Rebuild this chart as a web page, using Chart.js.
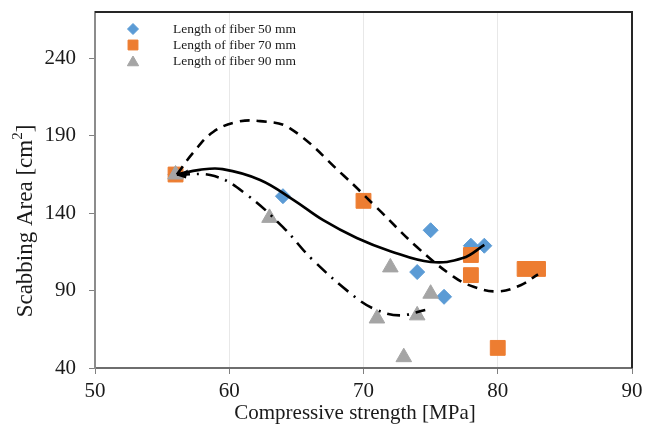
<!DOCTYPE html>
<html>
<head>
<meta charset="utf-8">
<script src="https://cdn.jsdelivr.net/npm/chart.js@4.4.0/dist/chart.umd.min.js"></script>
<style>
  html, body { margin: 0; padding: 0; background: #fff; }
</style>
</head>
<body>
<canvas id="chart" width="658" height="429"></canvas>
<script>
// axis ticks
const xTicks = [50, 60, 70, 80, 90];
const yTicks = [40, 90, 140, 190, 240];

// measured points
const seriesNames = ["Length of fiber 50 mm", "Length of fiber 70 mm", "Length of fiber 90 mm"];
const fiber50X = [56, 64, 74, 75, 76, 78, 79];
const fiber50Y = [165, 151, 102, 129, 86, 119, 119];
const fiber70X = [56, 70, 78, 78, 80, 82, 83];
const fiber70Y = [165, 148, 113, 100, 53, 104, 104];
const fiber90X = [56, 63, 72, 71, 74, 75, 73];
const fiber90Y = [165, 137, 105, 72, 74, 88, 47];

// trend lines
const trend50X = [56.1, 57.8, 59.5, 62.3, 64.8, 67.0, 69.5, 72.0, 75.0, 77.4, 79.0];
const trend50Y = [165, 168, 168.5, 161.5, 148.5, 135.5, 124, 115.5, 108.5, 111, 119.5];
const trend70X = [56.1, 57.3, 58.8, 60.6, 62.3, 64.5, 68.5, 71.0, 74.0, 76.7, 78.2, 80.0, 81.7, 83.0];
const trend70Y = [165, 179, 192.5, 199, 199.5, 195, 164.5, 143.5, 118, 99, 92.5, 89.5, 93.5, 100.5];
const trend90X = [56.1, 58.9, 61.3, 64.0, 66.2, 69.5, 71.0, 72.7, 74.6];
const trend90Y = [165, 164, 152, 131, 110, 85, 77.5, 74, 77.5];

const pts = (xs, ys) => xs.map((x, i) => ({ x: x, y: ys[i] }));
const serif = '"Liberation Serif", "Times New Roman", serif';

const trendLine = (xs, ys, dash, order) => ({
  data: pts(xs, ys),
  showLine: true,
  borderColor: "#000",
  borderWidth: 2.6,
  borderDash: dash,
  pointRadius: 0,
  tension: 0.4,
  order: order,
});

// frame, legend, axis titles
const decor = {
  id: "decor",
  beforeDatasetsDraw(chart) {
    const { ctx, chartArea: a } = chart;
    ctx.save();
    ctx.strokeStyle = "#262626";
    ctx.lineWidth = 2;
    ctx.beginPath();
    ctx.moveTo(a.left, a.top);
    ctx.lineTo(a.right, a.top);
    ctx.lineTo(a.right, a.bottom);
    ctx.stroke();
    ctx.restore();
  },
  afterDatasetsDraw(chart) {
    const { ctx } = chart;
    ctx.save();
    // arrowhead at start of the solid trend line
    const p = chart.getDatasetMeta(3).data[0];
    ctx.fillStyle = "#000";
    ctx.beginPath();
    ctx.moveTo(p.x, p.y + 1);
    ctx.lineTo(p.x + 11, p.y - 5);
    ctx.lineTo(p.x + 9, p.y + 4);
    ctx.closePath();
    ctx.fill();

    // legend
    const rows = [29, 45, 61];
    const sizes = [5.5, 7, 6.5];
    ctx.font = "13.5px " + serif;
    ctx.textBaseline = "middle";
    for (let i = 0; i < 3; i++) {
      const ds = chart.data.datasets[i];
      ctx.fillStyle = ds.backgroundColor;
      ctx.strokeStyle = ds.backgroundColor;
      Chart.helpers.drawPoint(ctx, { pointStyle: ds.pointStyle, radius: sizes[i], rotation: 0, borderWidth: 1 }, 133, rows[i] + (i === 2 ? 1.5 : 0));
      ctx.fillStyle = "#1a1a1a";
      ctx.fillText(seriesNames[i], 173, rows[i]);
    }

    // axis titles
    ctx.font = "21px " + serif;
    ctx.fillStyle = "#1a1a1a";
    ctx.textAlign = "center";
    ctx.fillText("Compressive strength [MPa]", 355, 413);

    ctx.translate(26, 221);
    ctx.rotate(-Math.PI / 2);
    ctx.textAlign = "left";
    const big = "23px " + serif, small = "15px " + serif;
    const parts = [["Scabbing Area [cm", big, 0], ["2", small, -8], ["]", big, 0]];
    let w = 0;
    parts.forEach(([t, f]) => { ctx.font = f; w += ctx.measureText(t).width; });
    let x = -w / 2;
    parts.forEach(([t, f, dy]) => {
      ctx.font = f;
      ctx.fillText(t, x, dy);
      x += ctx.measureText(t).width;
    });
    ctx.restore();
  },
};

new Chart(document.getElementById("chart"), {
  type: "scatter",
  data: {
    datasets: [
      { label: seriesNames[0], data: pts(fiber50X, fiber50Y), pointStyle: "rectRot", pointRadius: 7.5, backgroundColor: "#5B9BD5", borderColor: "#5B9BD5", order: 6 },
      { label: seriesNames[1], data: pts(fiber70X, fiber70Y), pointStyle: "rect", pointRadius: 10.5, backgroundColor: "#ED7D31", borderColor: "#ED7D31", order: 5 },
      { label: seriesNames[2], data: pts(fiber90X, fiber90Y), pointStyle: "triangle", pointRadius: 9, backgroundColor: "#A5A5A5", borderColor: "#A5A5A5", order: 4 },
      trendLine(trend50X, trend50Y, [], 3),
      trendLine(trend70X, trend70Y, [10, 7], 2),
      trendLine(trend90X, trend90Y, [13, 7, 2, 7], 1),
    ],
  },
  options: {
    responsive: false,
    animation: false,
    layout: { padding: { top: 12, right: 26, left: 0, bottom: 0 } },
    plugins: { legend: { display: false }, tooltip: { enabled: false } },
    scales: {
      x: {
        type: "linear",
        min: 50,
        max: 90,
        afterBuildTicks: (s) => { s.ticks = xTicks.map((v) => ({ value: v })); },
        afterFit: (s) => { s.height = 61; s.paddingLeft = 0; s.paddingRight = 0; },
        grid: { color: "#e8e8e8", lineWidth: 1, tickColor: "#808080", tickLength: 6, drawOnChartArea: true },
        border: { color: "#6e6e6e", width: 2 },
        ticks: { font: { family: serif, size: 21 }, color: "#1a1a1a", padding: 5, maxRotation: 0 },
      },
      y: {
        min: 40,
        max: 270,
        afterBuildTicks: (s) => { s.ticks = yTicks.map((v) => ({ value: v })); },
        afterFit: (s) => { s.width = 95; s.paddingTop = 0; s.paddingBottom = 0; },
        grid: { drawOnChartArea: false, tickColor: "#808080", tickLength: 6 },
        border: { color: "#8c8c8c", width: 2 },
        ticks: { font: { family: serif, size: 21 }, color: "#1a1a1a", padding: 13 },
      },
    },
  },
  plugins: [decor],
});
</script>
</body>
</html>
